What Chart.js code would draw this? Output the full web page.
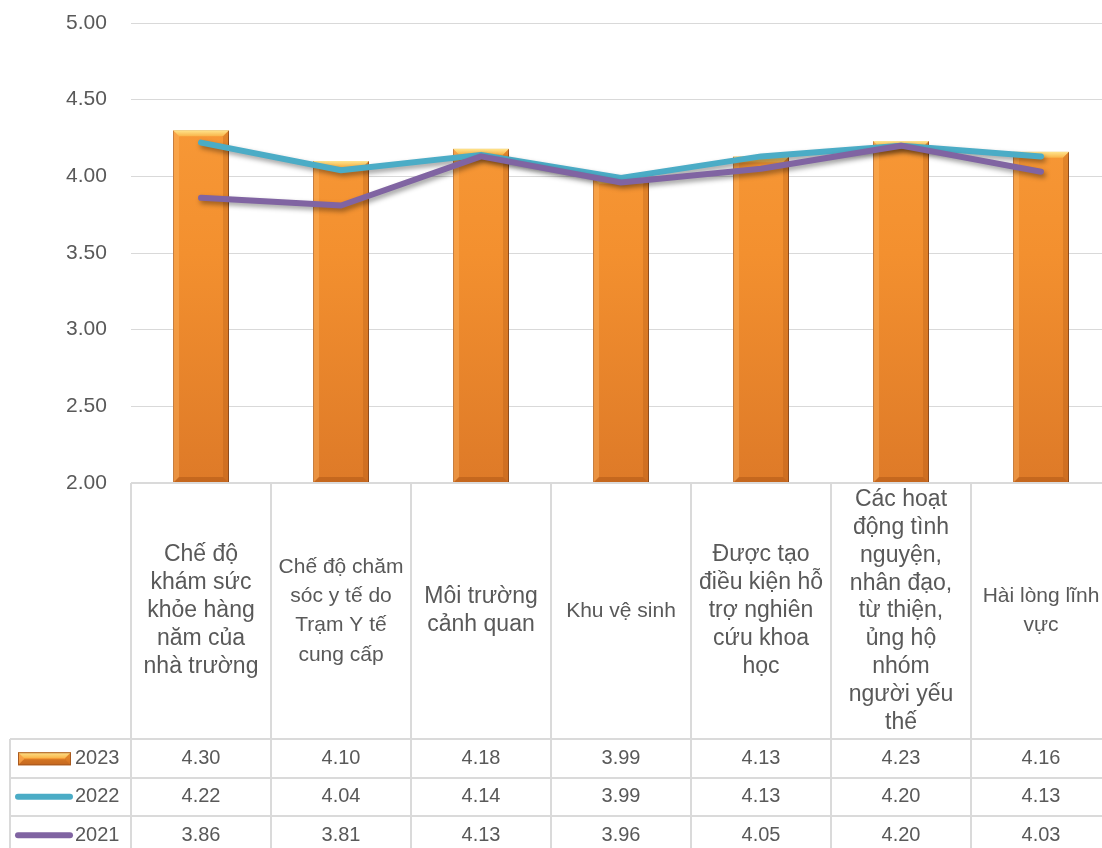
<!DOCTYPE html>
<html lang="vi">
<head>
<meta charset="utf-8">
<title>Mức độ hài lòng</title>
<script src="https://cdn.jsdelivr.net/npm/chart.js@4.4.1/dist/chart.umd.min.js"></script>
<style>
  html, body { margin: 0; padding: 0; background: #ffffff; overflow: hidden; }
  #wrap { position: relative; width: 1111px; height: 860px; }
</style>
</head>
<body>
<div id="wrap"><canvas id="chart"></canvas></div>
<script>
// Category labels (one entry per line of the wrapped header text)
const categories = [
  ['Chế độ', 'khám sức', 'khỏe hàng', 'năm của', 'nhà trường'],
  ['Chế độ chăm', 'sóc y tế do', 'Trạm Y tế', 'cung cấp'],
  ['Môi trường', 'cảnh quan'],
  ['Khu vệ sinh'],
  ['Được tạo', 'điều kiện hỗ', 'trợ nghiên', 'cứu khoa', 'học'],
  ['Các hoạt', 'động tình', 'nguyện,', 'nhân đạo,', 'từ thiện,', 'ủng hộ', 'nhóm', 'người yếu', 'thế'],
  ['Hài lòng lĩnh', 'vực']
];

// Series values
const seriesNames = ['2023', '2022', '2021'];
const values2023 = [4.30, 4.10, 4.18, 3.99, 4.13, 4.23, 4.16];
const values2022 = [4.22, 4.04, 4.14, 3.99, 4.13, 4.20, 4.13];
const values2021 = [3.86, 3.81, 4.13, 3.96, 4.05, 4.20, 4.03];

// Value axis
const yMin = 2.00;
const yMax = 5.00;
const yStep = 0.50;

const FONT = "'Liberation Sans', Arial, sans-serif";
const TEXT = '#595959';
const GRID = '#d9d9d9';
const TEAL = '#4BACC6';
const PURPLE = '#8064A2';

// Orange bar fill with a soft vertical gradient
function barGradient(ctx, top, bottom) {
  const g = ctx.createLinearGradient(0, top, 0, bottom);
  g.addColorStop(0, '#FA9E3C');
  g.addColorStop(0.5, '#F3902F');
  g.addColorStop(1, '#DE7A28');
  return g;
}

// Bevel highlights on each bar (light top facet, darker sides/bottom)
function drawBevel(ctx, l, r, t, b) {
  const d = 6;
  ctx.save();
  // top facet
  let g = ctx.createLinearGradient(0, t, 0, t + d);
  g.addColorStop(0, '#FFE58E');
  g.addColorStop(1, '#F9B448');
  ctx.fillStyle = g;
  ctx.beginPath();
  ctx.moveTo(l, t); ctx.lineTo(r, t); ctx.lineTo(r - d, t + d); ctx.lineTo(l + d, t + d); ctx.closePath();
  ctx.fill();
  // left facet
  ctx.fillStyle = 'rgba(255,190,110,0.35)';
  ctx.beginPath();
  ctx.moveTo(l, t); ctx.lineTo(l + d, t + d); ctx.lineTo(l + d, b - d); ctx.lineTo(l, b); ctx.closePath();
  ctx.fill();
  // right facet
  ctx.fillStyle = 'rgba(150,70,10,0.22)';
  ctx.beginPath();
  ctx.moveTo(r, t); ctx.lineTo(r - d, t + d); ctx.lineTo(r - d, b - d); ctx.lineTo(r, b); ctx.closePath();
  ctx.fill();
  // bottom facet
  ctx.fillStyle = 'rgba(140,60,10,0.30)';
  ctx.beginPath();
  ctx.moveTo(l, b); ctx.lineTo(l + d, b - d); ctx.lineTo(r - d, b - d); ctx.lineTo(r, b); ctx.closePath();
  ctx.fill();
  ctx.restore();
}

// Soft drop shadow behind bars and lines
const shadowPlugin = {
  id: 'softShadow',
  beforeDatasetDraw(chart, args) {
    const ctx = chart.ctx;
    ctx.save();
    const isBar = args.meta.type === 'bar';
    ctx.shadowColor = isBar ? 'rgba(0,0,0,0.28)' : 'rgba(0,0,0,0.38)';
    ctx.shadowBlur = 5;
    ctx.shadowOffsetX = 2;
    ctx.shadowOffsetY = 3;
  },
  afterDatasetDraw(chart, args) {
    const ctx = chart.ctx;
    ctx.restore();
    if (args.meta.type === 'bar') {
      const area = chart.chartArea;
      args.meta.data.forEach(el => {
        const w = el.width;
        const b = Math.min(el.base, area.bottom);
        drawBevel(ctx, el.x - w / 2, el.x + w / 2, el.y, b);
      });
    }
  }
};

// Data table beneath the plot: category headers, legend keys and values
const tablePlugin = {
  id: 'dataTable',
  afterDraw(chart, args, opts) {
    const ctx = chart.ctx;
    const xs = chart.scales.x;
    const area = chart.chartArea;
    const n = categories.length;
    const colW = xs.getPixelForValue(1) - xs.getPixelForValue(0);
    const left = area.left;
    const right = left + colW * n;
    const headTop = area.bottom;
    const headBottom = headTop + opts.headerHeight;
    const rowH = opts.rowHeight;
    const bottom = headBottom + rowH * 3;
    const legendLeft = opts.legendLeft;

    ctx.save();
    ctx.strokeStyle = '#dadada';
    ctx.lineWidth = 2;
    ctx.beginPath();
    // verticals
    for (let i = 0; i <= n; i++) {
      const x = Math.round(left + colW * i);
      ctx.moveTo(x, headTop); ctx.lineTo(x, bottom);
    }
    ctx.moveTo(legendLeft, headBottom); ctx.lineTo(legendLeft, bottom);
    // horizontals
    ctx.moveTo(left, headTop); ctx.lineTo(right, headTop);
    for (let r = 0; r <= 3; r++) {
      const y = Math.round(headBottom + rowH * r);
      ctx.moveTo(legendLeft, y); ctx.lineTo(right, y);
    }
    ctx.stroke();

    // category headers
    ctx.fillStyle = TEXT;
    ctx.textAlign = 'center';
    ctx.textBaseline = 'middle';
    categories.forEach((lines, i) => {
      const cx = xs.getPixelForValue(i);
      const size = opts.headerSizes[i];
      const lh = opts.headerLineHeights[i];
      ctx.font = size + 'px ' + FONT;
      const mid = (headTop + headBottom) / 2;
      const y0 = mid - (lines.length - 1) * lh / 2;
      lines.forEach((t, k) => ctx.fillText(t, cx, y0 + k * lh));
    });

    // value rows
    const rows = [values2023, values2022, values2021];
    ctx.font = opts.valueSize + 'px ' + FONT;
    rows.forEach((vals, r) => {
      const cy = headBottom + rowH * r + rowH / 2;
      vals.forEach((v, i) => ctx.fillText(v.toFixed(2), xs.getPixelForValue(i), cy));
    });

    // legend keys and series names
    rows.forEach((vals, r) => {
      const cy = headBottom + rowH * r + rowH / 2;
      if (r === 0) {
        const kl = 18, kr = 71, kt = cy - 6, kb = cy + 7;
        ctx.fillStyle = barGradient(ctx, kt, kb);
        ctx.fillRect(kl, kt, kr - kl, kb - kt);
        drawBevel(ctx, kl, kr, kt, kb);
        ctx.strokeStyle = '#A85A20';
        ctx.lineWidth = 1;
        ctx.strokeRect(kl + 0.5, kt + 0.5, kr - kl - 1, kb - kt - 1);
      } else {
        ctx.strokeStyle = r === 1 ? TEAL : PURPLE;
        ctx.lineWidth = 6;
        ctx.lineCap = 'round';
        ctx.beginPath();
        ctx.moveTo(18, cy); ctx.lineTo(70, cy);
        ctx.stroke();
      }
      ctx.fillStyle = TEXT;
      ctx.textAlign = 'left';
      ctx.fillText(seriesNames[r], 75, cy);
      ctx.textAlign = 'center';
    });
    ctx.restore();
  }
};

const ctx = document.getElementById('chart').getContext('2d');
new Chart(ctx, {
  data: {
    labels: categories,
    datasets: [
      {
        type: 'line',
        label: seriesNames[2],
        data: values2021,
        borderColor: PURPLE,
        borderWidth: 6,
        borderCapStyle: 'round',
        borderJoinStyle: 'round',
        pointRadius: 0,
        tension: 0,
        order: 1
      },
      {
        type: 'line',
        label: seriesNames[1],
        data: values2022,
        borderColor: TEAL,
        borderWidth: 6,
        borderCapStyle: 'round',
        borderJoinStyle: 'round',
        pointRadius: 0,
        tension: 0,
        order: 2
      },
      {
        type: 'bar',
        label: seriesNames[0],
        data: values2023,
        backgroundColor: (c) => {
          const a = c.chart.chartArea;
          if (!a) return '#F3902F';
          return barGradient(c.chart.ctx, a.top, a.bottom);
        },
        borderColor: '#B0622A',
        borderWidth: 1,
        barPercentage: 0.4,
        categoryPercentage: 1.0,
        order: 3
      }
    ]
  },
  options: {
    responsive: true,
    maintainAspectRatio: false,
    animation: false,
    devicePixelRatio: 1,
    layout: { padding: { top: 23, left: 66, right: 0, bottom: 377 } },
    plugins: {
      legend: { display: false },
      tooltip: { enabled: false },
      dataTable: {
        headerHeight: 256,
        rowHeight: 38.5,
        legendLeft: 10,
        headerSizes: [23, 21, 23, 21, 23, 23, 21],
        headerLineHeights: [28, 29.3, 28, 29, 28, 27.8, 29],
        valueSize: 20
      }
    },
    scales: {
      x: {
        type: 'category',
        offset: true,
        display: false
      },
      y: {
        min: yMin,
        max: yMax,
        afterFit(scale) { scale.width = 65; },
        border: { display: false },
        grid: { color: GRID, lineWidth: 1, drawTicks: false },
        ticks: {
          stepSize: yStep,
          padding: 0,
          crossAlign: 'far',
          color: TEXT,
          font: { family: FONT, size: 21 },
          callback: (v) => Number(v).toFixed(2)
        }
      }
    }
  },
  plugins: [shadowPlugin, tablePlugin]
});
</script>
</body>
</html>
